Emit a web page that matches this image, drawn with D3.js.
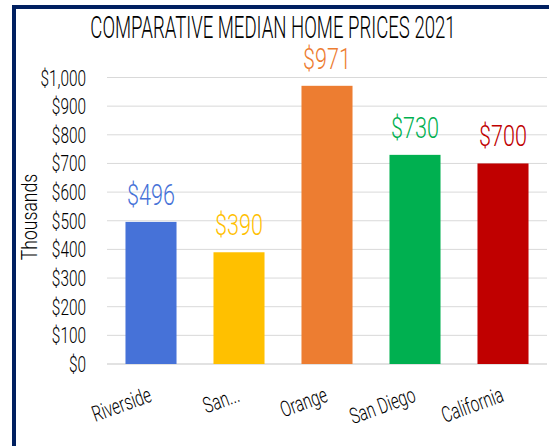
<!DOCTYPE html>
<html>
<head>
<meta charset="utf-8">
<script src="https://cdn.jsdelivr.net/npm/d3@7"></script>
<style>
  body { margin: 0; background: #fff; }
  text { font-family: Roboto, "Liberation Sans", sans-serif; font-weight: 300; }
</style>
</head>
<body>
<div id="chart"></div>
<script>
// data
var regions = ["Riverside", "San...", "Orange", "San Diego", "California"];
var prices = [496, 390, 971, 730, 700];           // thousands of dollars
var colors = ["#4672D8", "#FFC000", "#ED7D31", "#00B050", "#C00000"];
var yTicks = [0, 100, 200, 300, 400, 500, 600, 700, 800, 900, 1000];

var width = 549, height = 446;
var plot = {left: 107, right: 547, top: 77.5, bottom: 364};

var svg = d3.select("#chart")
  .append("svg")
  .attr("width", width)
  .attr("height", height);

svg.append("rect").attr("width", width).attr("height", height).attr("fill", "#fff");

// frame (only left + top show in the crop)
svg.append("path")
  .attr("d", "M14," + height + "V7H" + width)
  .attr("fill", "none")
  .attr("stroke", "#002060")
  .attr("stroke-width", 4);

var x = d3.scaleBand()
  .domain(regions)
  .range([plot.left, plot.right])
  .paddingInner(0.42)
  .paddingOuter(0.21);

var y = d3.scaleLinear()
  .domain([0, 1000])
  .range([plot.bottom, plot.top]);

// squeezed text helper (the original uses a narrow display face)
function label(g, str, px, py, opts) {
  var t = g.append("text")
    .attr("transform", "translate(" + px + "," + py + ")" +
      (opts.rotate ? " rotate(" + opts.rotate + ")" : "") +
      " scale(" + opts.sx + ",1)")
    .attr("font-size", opts.size)
    .attr("text-anchor", opts.anchor || "middle")
    .attr("fill", opts.fill || "#000")
    .text(str);
  return t;
}

// gridlines
svg.append("g")
  .selectAll("line")
  .data(yTicks)
  .enter()
  .append("line")
    .attr("x1", plot.left)
    .attr("x2", plot.right)
    .attr("y1", function(d) { return y(d); })
    .attr("y2", function(d) { return y(d); })
    .attr("stroke", "#d9d9d9")
    .attr("stroke-width", function(d) { return d === 0 ? 1.5 : 1; });

// y labels
var fmt = d3.format("$,");
var yl = svg.append("g");
yTicks.forEach(function(d) {
  label(yl, fmt(d), 86, y(d) + 8, {size: 22, sx: 0.7, anchor: "end"});
});

label(svg, "Thousands", 37, 217, {size: 22, sx: 0.8, rotate: -90});

// bars
svg.append("g")
  .selectAll("rect")
  .data(prices)
  .enter()
  .append("rect")
    .attr("x", function(d, i) { return x(regions[i]); })
    .attr("width", x.bandwidth())
    .attr("y", function(d) { return y(d); })
    .attr("height", function(d) { return y(0) - y(d); })
    .attr("fill", function(d, i) { return colors[i]; });

// value labels
var vl = svg.append("g");
prices.forEach(function(d, i) {
  label(vl, "$" + d, x(regions[i]) + x.bandwidth() / 2, y(d) - 17,
    {size: 30, sx: 0.72, fill: colors[i]});
});

// category labels
var xl = svg.append("g");
regions.forEach(function(r) {
  label(xl, r, x(r) + x.bandwidth() / 2 + 2, 401,
    {size: 22, sx: 0.7, rotate: -20, anchor: "end"});
});

// title
label(svg, "COMPARATIVE MEDIAN HOME PRICES 2021", 273, 38, {size: 31, sx: 0.6});
</script>
</body>
</html>
